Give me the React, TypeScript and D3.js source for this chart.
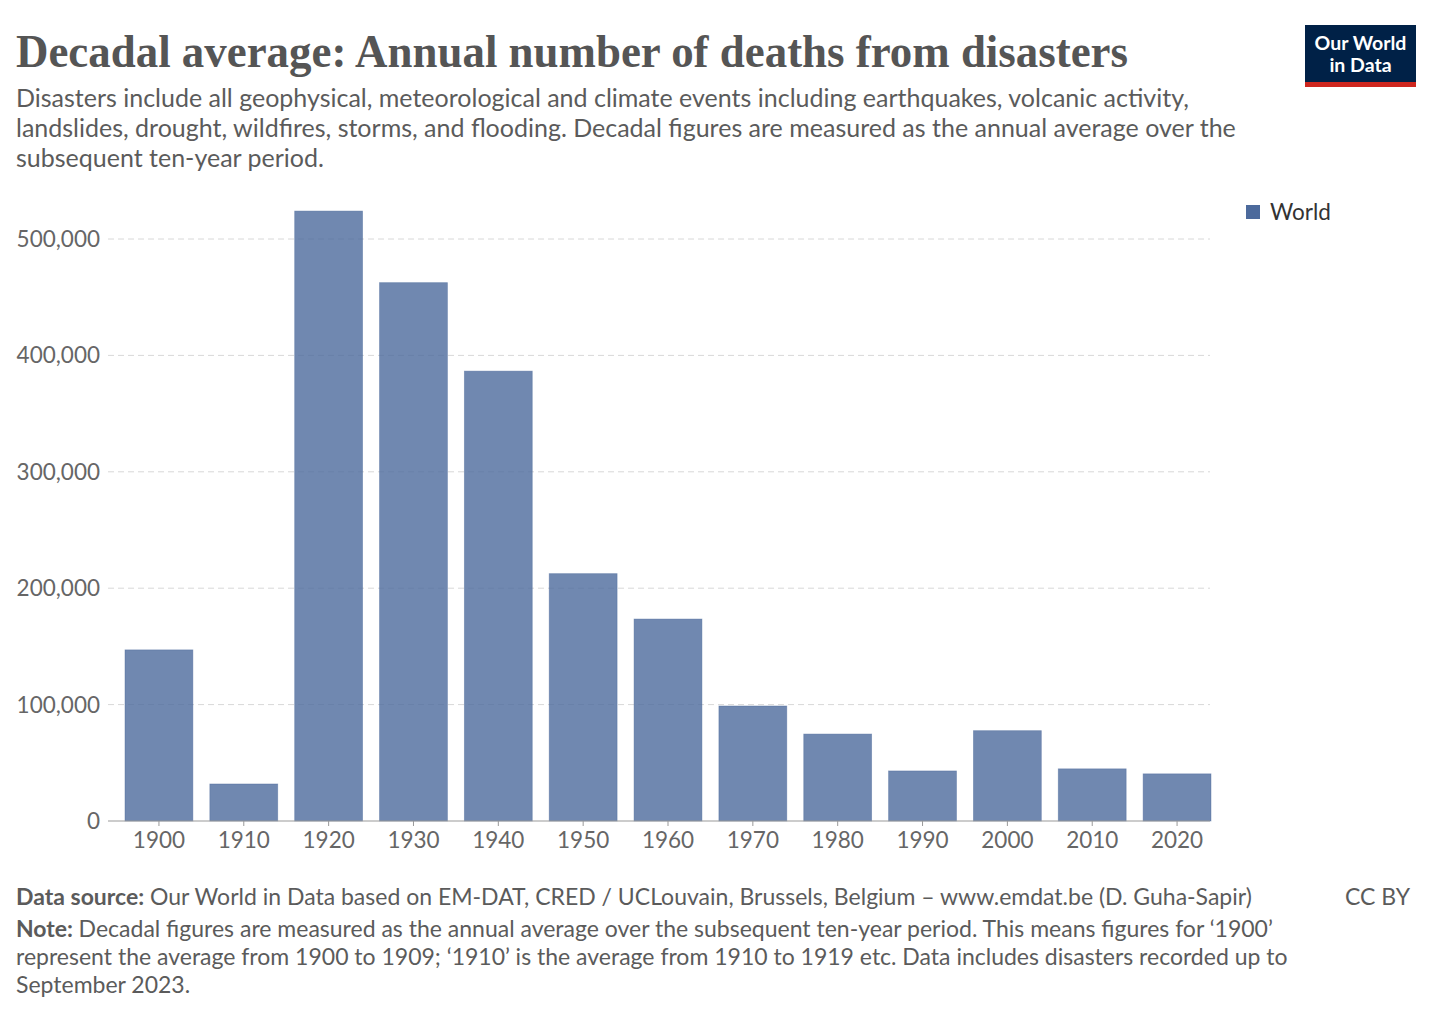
import * as React from 'react'
import * as d3 from 'd3'

const width = 1432
const height = 1034

const decades = ['1900', '1910', '1920', '1930', '1940', '1950', '1960', '1970', '1980', '1990', '2000', '2010', '2020']
const deaths = [147000, 31800, 524000, 462500, 386500, 212500, 173500, 98800, 74700, 43000, 77600, 44800, 40500]
const yTicks = [0, 100000, 200000, 300000, 400000, 500000]

const subtitleLines = [
  'Disasters include all geophysical, meteorological and climate events including earthquakes, volcanic activity,',
  'landslides, drought, wildfires, storms, and flooding. Decadal figures are measured as the annual average over the',
  'subsequent ten-year period.',
]
const noteLines = [
  'Decadal figures are measured as the annual average over the subsequent ten-year period. This means figures for \u20181900\u2019',
  'represent the average from 1900 to 1909; \u20181910\u2019 is the average from 1910 to 1919 etc. Data includes disasters recorded up to',
  'September 2023.',
]

const barColor = '#4c6a9c'
const font = 'Lato, "Noto Sans", sans-serif'
const textGray = '#5b5b5b'

const App = () => {
  const axisLeft = 108
  const axisRight = 1210

  const x = d3.scaleBand().domain(decades).range([125, 1211]).paddingInner(0.2).paddingOuter(0)
  const y = d3.scaleLinear().domain([0, 500000]).range([821, 239])
  const fmt = d3.format(',')

  return (
    <svg width={width} height={height} style={{ display: 'block', margin: '-8px', background: '#fff' }}>
      <text x={16} y={67} fontFamily='"Liberation Serif", "DejaVu Serif", serif' fontWeight={700} fontSize={47}
        fill="#555" textLength={1112} lengthAdjust="spacingAndGlyphs">
        Decadal average: Annual number of deaths from disasters
      </text>
      {subtitleLines.map((l, i) => (
        <text key={i} x={16} y={107 + i * 30} fontFamily={font} fontSize={25} fill={textGray}>{l}</text>
      ))}

      {/* logo */}
      <rect x={1305} y={25} width={111} height={58} fill="#002147" />
      <rect x={1305} y={82} width={111} height={5} fill="#ce261e" />
      <text x={1360.5} y={50} textAnchor="middle" fontFamily={font} fontWeight={700} fontSize={19.5} fill="#fff">Our World</text>
      <text x={1360.5} y={72} textAnchor="middle" fontFamily={font} fontWeight={700} fontSize={19.5} fill="#fff">in Data</text>

      {/* grid */}
      {yTicks.filter(t => t > 0).map(t => (
        <line key={t} x1={axisLeft} x2={axisRight} y1={y(t)} y2={y(t)} stroke="#d8d8d8" strokeDasharray="6,4" />
      ))}
      {yTicks.map(t => (
        <text key={t} x={100} y={y(t) + 8} textAnchor="end" fontFamily={font} fontSize={22.5} fill="#666">{fmt(t)}</text>
      ))}

      {/* bars */}
      {decades.map((d, i) => (
        <rect key={d} x={x(d)} y={y(deaths[i])} width={x.bandwidth()} height={y(0) - y(deaths[i])}
          fill={barColor} fillOpacity={0.8} stroke={barColor} strokeOpacity={0.5} strokeWidth={0.8} />
      ))}

      {/* x axis */}
      <line x1={axisLeft} x2={axisRight} y1={y(0)} y2={y(0)} stroke="#999" />
      {decades.map(d => (
        <g key={d} transform={`translate(${x(d)! + x.bandwidth() / 2},0)`}>
          <line y1={y(0)} y2={y(0) + 5} stroke="#999" />
          <text y={848} textAnchor="middle" fontFamily={font} fontSize={22.5} fill="#666">{d}</text>
        </g>
      ))}

      {/* legend */}
      <rect x={1246} y={205} width={14} height={14} fill={barColor} />
      <text x={1270} y={220} fontFamily={font} fontSize={22.5} fill="#333">World</text>

      {/* footer */}
      <text x={16} y={905} fontFamily={font} fontSize={23} fill={textGray}>
        <tspan fontWeight={700}>Data source:</tspan> Our World in Data based on EM-DAT, CRED / UCLouvain, Brussels, Belgium – www.emdat.be (D. Guha-Sapir)
      </text>
      <text x={1410} y={905} textAnchor="end" fontFamily={font} fontSize={23} fill={textGray}>CC BY</text>
      {noteLines.map((l, i) => (
        <text key={i} x={16} y={937 + i * 28} fontFamily={font} fontSize={23} fill={textGray}>
          {i === 0 && <tspan fontWeight={700}>Note: </tspan>}{l}
        </text>
      ))}
    </svg>
  )
}

export default App
